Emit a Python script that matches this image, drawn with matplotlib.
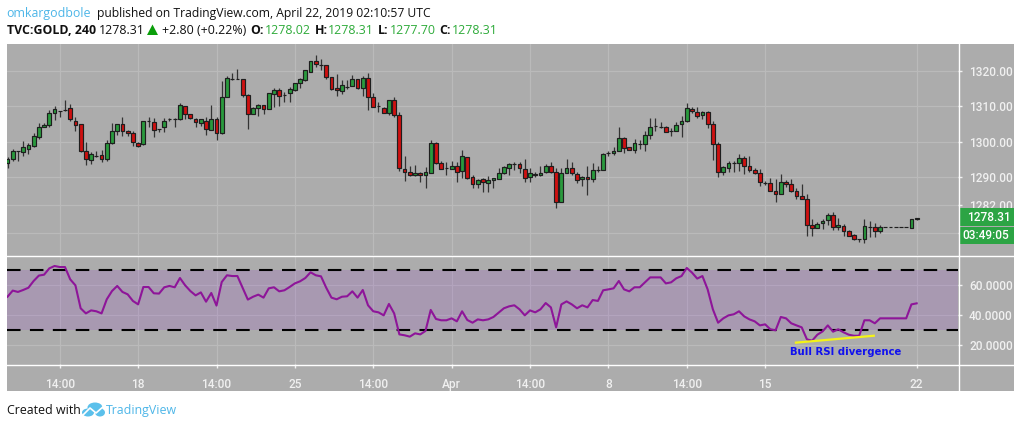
import matplotlib
matplotlib.use("Agg")
import numpy as np
import matplotlib.pyplot as plt
from matplotlib.patches import Rectangle, Polygon, Ellipse

# 4h gold candles
opens = [
    1293.8, 1295.1, 1297.4, 1297.1, 1298.0, 1298.8, 1301.4, 1304.2, 1304.7, 1308.0,
    1308.7, 1308.9, 1309.4, 1305.9, 1304.9, 1297.4, 1294.9, 1296.0, 1296.3, 1295.1,
    1299.5, 1302.9, 1304.9, 1302.9, 1302.5, 1299.7, 1299.2, 1305.7, 1305.6, 1303.5,
    1304.0, 1306.5, 1306.5, 1306.3, 1310.2, 1307.7, 1306.5, 1305.2, 1305.9, 1303.3,
    1306.5, 1302.3, 1312.7, 1317.7, 1317.6, 1317.6, 1313.1, 1307.9, 1309.6, 1310.3,
    1309.2, 1313.6, 1314.5, 1313.3, 1313.7, 1314.7, 1316.5, 1317.5, 1319.8, 1322.7,
    1321.6, 1321.6, 1318.2, 1315.1, 1314.4, 1315.6, 1315.8, 1317.6, 1315.3, 1317.9,
    1312.7, 1310.1, 1309.6, 1308.2, 1311.7, 1307.6, 1292.2, 1291.5, 1290.4, 1291.2,
    1290.4, 1291.2, 1299.5, 1293.8, 1292.4, 1292.3, 1293.2, 1291.8, 1295.7, 1289.9,
    1288.1, 1289.3, 1288.4, 1289.0, 1289.5, 1291.2, 1292.6, 1293.7, 1293.6, 1292.3,
    1289.9, 1290.9, 1290.4, 1291.4, 1293.2, 1291.5, 1283.0, 1291.2, 1292.6, 1290.9,
    1289.3, 1290.1, 1289.3, 1292.0, 1292.0, 1296.8, 1296.7, 1297.4, 1301.1, 1298.4,
    1297.7, 1299.3, 1299.4, 1301.9, 1304.4, 1304.2, 1304.2, 1303.1, 1303.1, 1304.9,
    1305.9, 1309.3, 1308.5, 1307.4, 1308.3, 1304.9, 1299.2, 1291.3, 1292.6, 1294.0,
    1293.8, 1295.3, 1293.2, 1291.9, 1291.2, 1288.4, 1288.4, 1286.0, 1285.2, 1288.6,
    1287.9, 1286.1, 1284.7, 1283.8, 1276.5, 1275.4, 1276.9, 1277.9, 1279.3, 1275.8,
    1276.2, 1274.8, 1273.5, 1272.4, 1272.5, 1275.9, 1275.8, 1274.8, 1275.9, 1275.9,
    1275.9, 1275.9, 1275.9, 1275.5, 1278.02,
]
highs = [
    1295.7, 1297.8, 1297.4, 1300.2, 1299.5, 1302.5, 1305.2, 1305.2, 1308.9, 1310.1,
    1308.7, 1311.8, 1310.6, 1307.0, 1305.0, 1299.8, 1297.0, 1297.4, 1297.6, 1300.4,
    1305.2, 1305.0, 1306.9, 1303.3, 1303.0, 1299.8, 1305.8, 1306.9, 1306.6, 1303.7,
    1306.6, 1306.6, 1306.6, 1311.0, 1310.2, 1307.8, 1306.6, 1306.4, 1306.9, 1310.4,
    1307.1, 1317.3, 1318.6, 1319.3, 1320.6, 1317.7, 1313.5, 1309.7, 1310.6, 1310.4,
    1313.8, 1315.2, 1315.1, 1314.0, 1315.6, 1316.7, 1318.0, 1320.2, 1322.9, 1324.5,
    1323.3, 1321.6, 1318.3, 1319.1, 1317.4, 1317.4, 1318.9, 1317.7, 1318.6, 1319.5,
    1313.9, 1311.3, 1309.7, 1311.7, 1312.6, 1308.5, 1295.9, 1293.1, 1293.3, 1291.3,
    1292.9, 1300.5, 1299.8, 1294.6, 1294.2, 1294.6, 1294.1, 1297.6, 1295.7, 1290.5,
    1289.3, 1289.6, 1290.2, 1289.6, 1292.4, 1293.1, 1293.8, 1294.2, 1294.3, 1295.0,
    1292.4, 1291.4, 1293.1, 1293.6, 1294.1, 1292.4, 1292.4, 1295.0, 1294.1, 1291.5,
    1290.2, 1293.1, 1293.8, 1293.1, 1296.9, 1297.2, 1298.4, 1304.0, 1301.4, 1298.5,
    1300.6, 1300.4, 1303.0, 1306.6, 1306.6, 1305.5, 1304.3, 1303.8, 1305.6, 1307.2,
    1310.8, 1309.9, 1309.7, 1308.7, 1308.7, 1305.8, 1299.8, 1293.1, 1294.5, 1294.5,
    1296.5, 1295.9, 1295.9, 1292.4, 1292.3, 1288.8, 1289.6, 1289.3, 1290.7, 1289.1,
    1289.3, 1286.8, 1288.0, 1285.3, 1278.0, 1277.3, 1278.0, 1279.7, 1280.1, 1278.3,
    1276.6, 1275.0, 1273.7, 1272.5, 1278.0, 1277.5, 1277.0, 1276.4, 1275.9, 1275.9,
    1275.9, 1275.9, 1275.9, 1278.0, 1278.31,
]
lows = [
    1292.4, 1294.6, 1294.6, 1296.0, 1296.5, 1298.5, 1300.7, 1304.0, 1304.2, 1306.1,
    1307.0, 1308.7, 1305.9, 1303.1, 1297.0, 1293.4, 1293.6, 1295.7, 1294.3, 1294.6,
    1299.3, 1301.9, 1301.7, 1301.6, 1298.8, 1298.6, 1299.0, 1304.2, 1301.4, 1302.8,
    1302.8, 1305.8, 1304.2, 1306.1, 1306.3, 1306.4, 1304.0, 1304.4, 1301.9, 1303.3,
    1300.5, 1302.1, 1312.5, 1317.5, 1317.6, 1312.7, 1303.6, 1307.8, 1307.2, 1307.7,
    1309.1, 1309.9, 1310.1, 1311.3, 1311.3, 1314.4, 1315.3, 1317.3, 1319.7, 1321.2,
    1320.3, 1317.6, 1314.6, 1313.0, 1313.5, 1314.8, 1315.8, 1314.8, 1313.0, 1309.0,
    1309.7, 1308.5, 1308.0, 1307.5, 1306.9, 1291.8, 1288.8, 1290.3, 1290.3, 1288.7,
    1287.0, 1291.0, 1293.6, 1292.1, 1290.5, 1292.1, 1288.6, 1289.6, 1289.3, 1286.8,
    1286.8, 1285.7, 1285.8, 1286.9, 1289.3, 1290.8, 1290.5, 1292.0, 1291.0, 1288.6,
    1288.7, 1289.9, 1290.3, 1291.0, 1291.0, 1281.1, 1282.8, 1291.0, 1290.5, 1288.4,
    1287.4, 1284.9, 1288.6, 1291.5, 1292.0, 1296.0, 1296.2, 1297.2, 1296.7, 1297.6,
    1296.7, 1298.0, 1297.3, 1300.7, 1302.9, 1303.9, 1302.7, 1301.6, 1302.9, 1301.4,
    1305.5, 1308.2, 1306.6, 1306.3, 1303.8, 1294.8, 1289.9, 1290.5, 1291.5, 1291.5,
    1291.7, 1290.8, 1291.5, 1290.8, 1287.5, 1287.8, 1286.0, 1283.0, 1285.1, 1287.2,
    1285.8, 1283.7, 1283.7, 1273.4, 1273.2, 1275.4, 1275.2, 1276.4, 1275.0, 1275.0,
    1273.2, 1273.2, 1272.1, 1271.6, 1271.2, 1272.9, 1272.9, 1274.0, 1275.9, 1275.9,
    1275.9, 1275.9, 1275.9, 1275.5, 1277.7,
]
closes = [
    1295.2, 1297.4, 1297.4, 1298.4, 1298.9, 1301.7, 1304.2, 1304.8, 1308.0, 1309.1,
    1308.7, 1308.9, 1306.5, 1304.8, 1297.4, 1295.1, 1296.4, 1296.0, 1295.2, 1299.5,
    1302.9, 1305.0, 1302.9, 1302.3, 1299.8, 1298.8, 1305.7, 1305.7, 1303.4, 1303.5,
    1305.9, 1306.5, 1306.5, 1310.3, 1307.9, 1306.6, 1305.5, 1306.3, 1303.5, 1306.3,
    1302.3, 1312.5, 1317.9, 1317.7, 1317.6, 1313.3, 1307.9, 1309.6, 1310.5, 1309.3,
    1313.7, 1314.5, 1313.0, 1313.3, 1314.8, 1316.5, 1317.6, 1320.2, 1322.7, 1321.9,
    1321.6, 1318.2, 1315.0, 1314.5, 1316.0, 1315.6, 1317.6, 1315.3, 1317.9, 1312.7,
    1309.9, 1310.1, 1308.2, 1311.7, 1307.6, 1292.4, 1291.5, 1290.4, 1291.2, 1290.4,
    1291.5, 1299.7, 1293.8, 1292.3, 1292.4, 1293.2, 1291.5, 1295.8, 1289.6, 1288.1,
    1289.2, 1288.5, 1289.0, 1289.6, 1291.2, 1292.7, 1293.6, 1293.7, 1292.4, 1289.8,
    1291.2, 1290.4, 1291.2, 1293.2, 1291.4, 1283.0, 1291.2, 1292.6, 1291.2, 1289.0,
    1290.1, 1289.3, 1292.0, 1292.0, 1296.6, 1296.8, 1297.4, 1301.1, 1298.3, 1297.7,
    1299.5, 1299.3, 1302.0, 1304.2, 1304.4, 1304.2, 1302.8, 1303.1, 1304.8, 1305.9,
    1309.4, 1308.6, 1307.2, 1308.3, 1304.9, 1299.2, 1291.3, 1292.7, 1293.8, 1294.0,
    1295.3, 1293.2, 1291.9, 1291.1, 1288.5, 1288.4, 1286.1, 1285.2, 1288.6, 1288.0,
    1286.0, 1284.7, 1283.8, 1276.5, 1275.4, 1276.8, 1277.6, 1279.1, 1275.9, 1276.3,
    1274.8, 1273.4, 1272.5, 1272.4, 1276.0, 1275.9, 1274.8, 1275.9, 1275.9, 1275.9,
    1275.9, 1275.9, 1275.9, 1278.0, 1278.31,
]
rsi_values = [
    52.4, 56.5, 55.6, 56.9, 58.4, 62.9, 66.5, 67.1, 71.3, 72.9,
    72.2, 72.2, 64.0, 60.0, 44.7, 41.3, 43.3, 42.7, 41.3, 50.7,
    56.2, 59.6, 55.6, 54.0, 49.6, 47.3, 58.9, 58.9, 54.7, 54.5,
    58.7, 59.6, 58.7, 64.9, 60.0, 56.2, 53.3, 55.3, 49.1, 54.9,
    46.5, 62.2, 66.7, 66.2, 66.2, 58.4, 50.5, 52.4, 53.8, 51.8,
    58.0, 58.7, 56.0, 56.7, 58.9, 61.3, 62.7, 64.9, 68.7, 66.7,
    66.0, 58.4, 51.8, 50.7, 52.4, 52.7, 56.0, 51.8, 56.9, 46.7,
    42.7, 42.0, 40.0, 47.6, 41.3, 27.3, 26.7, 25.8, 28.0, 27.3,
    29.6, 43.6, 37.6, 36.7, 36.7, 38.0, 36.0, 42.7, 36.9, 35.1,
    37.3, 36.7, 37.3, 38.9, 41.8, 44.7, 46.0, 46.7, 44.0, 40.0,
    43.3, 42.0, 44.0, 48.2, 45.3, 32.0, 47.3, 49.3, 47.3, 44.7,
    46.7, 45.3, 50.2, 49.6, 56.7, 57.3, 58.0, 62.9, 57.3, 56.0,
    58.7, 58.7, 62.0, 65.3, 65.3, 65.3, 61.3, 62.0, 64.7, 66.2,
    71.6, 68.5, 64.5, 66.2, 57.3, 44.0, 35.1, 38.0, 40.0, 40.7,
    42.7, 39.3, 37.3, 36.0, 33.3, 34.0, 30.7, 30.0, 38.9, 38.0,
    34.7, 33.3, 32.0, 24.0, 23.1, 27.1, 29.3, 33.3, 29.1, 30.7,
    28.7, 27.1, 26.4, 26.4, 36.7, 36.7, 34.7, 38.0, 38.0, 38.0,
    38.0, 38.0, 38.0, 47.3, 48.0,
]

time_tick_bars = [10, 25, 40, 55, 70, 85, 100, 115, 130, 145, 174]
time_tick_labels = ["14:00", "18", "14:00", "25", "14:00", "Apr", "14:00", "8", "14:00", "15", "22"]
price_ticks = [1274, 1282, 1290, 1300, 1310, 1320]
price_tick_labels = ["", "1282.00", "1290.00", "1300.00", "1310.00", "1320.00"]
rsi_ticks = [20, 40, 60]
divergence_bars = [150.9, 165.8]
divergence_rsi = [21.8, 26.4]

W, H = 1021, 428
PANEL = "#acacac"
GRID = "#bababa"
TXT = "#f0f0f0"
BLUE = "#4db6e8"
UP = "#2a9a3d"
DOWN = "#cf1010"
EDGE = "#1e1e1e"
FONT = "Open Sans"
HEAD = 8.9
AXIS_SIZE = 8.6

fig = plt.figure(figsize=(W / 100, H / 100), dpi=100, facecolor="white")


def pane(left, top, right, bottom, zorder):
    return fig.add_axes([left / W, 1 - bottom / H, (right - left) / W, (bottom - top) / H], zorder=zorder)


# pixel canvas for the panel behind the charts
back = pane(0, 0, W, H, 0)
back.set_xlim(0, W)
back.set_ylim(H, 0)
back.axis("off")
back.add_patch(Rectangle((7, 44), 1007, 347, fc=PANEL, ec="none"))

bar_step = 5.225
first_x = 7.5
xlim = ((7 - first_x) / bar_step, (958 - first_x) / bar_step)

ax = pane(7, 44, 958, 255, 1)
rsi_ax = pane(7, 256, 958, 364, 1)
bars = np.arange(len(opens))

for a in (ax, rsi_ax):
    a.patch.set_alpha(0)
    a.set_xlim(xlim)
    a.set_xticks(time_tick_bars)
    a.yaxis.tick_right()
    a.grid(True, color=GRID, lw=0.9)
    a.set_axisbelow(True)
    for side in ("top", "left", "right", "bottom"):
        a.spines[side].set_visible(False)
    a.tick_params(axis="y", colors=TXT, length=3, width=1, pad=5, labelsize=AXIS_SIZE)

ax.set_ylim(1267.88, 1327.65)
ax.set_yticks(price_ticks)
ax.set_yticklabels(price_tick_labels, fontfamily="Roboto", fontweight="medium")
ax.tick_params(axis="x", length=0, labelbottom=False)

o = np.array(opens)
c = np.array(closes)
ax.vlines(bars, lows, highs, color="#333333", lw=0.9, zorder=2)
ax.bar(bars, np.abs(c - o), bottom=np.minimum(o, c), width=0.72,
       color=[UP if k >= op else DOWN for op, k in zip(o, c)],
       edgecolor=EDGE, linewidth=0.85, zorder=3)

rsi_ax.set_ylim(7.56, 79.56)
rsi_ax.set_yticks(rsi_ticks)
rsi_ax.set_yticklabels([f"{v:.4f}" for v in rsi_ticks], fontfamily="Roboto", fontweight="medium")
rsi_ax.set_xticklabels(time_tick_labels, fontfamily="Roboto", fontweight="medium", fontsize=AXIS_SIZE, color=TXT)
rsi_ax.tick_params(axis="x", colors=TXT, length=3, width=1, pad=7)
rsi_ax.axhspan(30, 70, fc="#984dca", alpha=0.2, zorder=1)
for level in (70, 30):
    rsi_ax.axhline(level, color="black", lw=1.5, dashes=(6.5, 4.5), zorder=2)
rsi_ax.plot(bars, rsi_values, color="#8e1599", lw=1.5, zorder=3, solid_joinstyle="round")
rsi_ax.plot(divergence_bars, divergence_rsi, color="#f4f416", lw=1.6, zorder=4)
rsi_ax.text(160.5, 15.8, "Bull RSI divergence", color="#1111ee", fontsize=7.3, fontweight="bold",
            family="DejaVu Sans", ha="center", va="center", zorder=5)

# overlay in pixel coordinates: axis borders, tags, header and footer
top = pane(0, 0, W, H, 3)
top.set_xlim(0, W)
top.set_ylim(H, 0)
top.axis("off")
top.patch.set_alpha(0)
top.plot([7, 1014], [255.5, 255.5], color="white", lw=1)
top.plot([7, 1014], [364.5, 364.5], color="white", lw=1)
top.plot([958.5, 958.5], [44, 391], color="white", lw=1)

top.add_patch(Rectangle((959, 208), 55, 18, fc="#2ca444", ec="none"))
top.add_patch(Rectangle((959, 227), 55, 17, fc="#2ca444", ec="none"))
top.text(967, 217.5, "1278.31", color="white", fontsize=AXIS_SIZE, family="Roboto", fontweight="medium", va="center")
top.text(962, 235.5, "03:49:05", color="white", fontsize=AXIS_SIZE, family="Roboto", fontweight="medium", va="center")

green_txt = "#2eab3a"
top.text(6.5, 13, "omkargodbole", color=BLUE, fontsize=HEAD, family=FONT, va="center")
top.text(96.5, 13, "published on TradingView.com, April 22, 2019 02:10:57 UTC", color="#111111",
         fontsize=HEAD * 0.985, family=FONT, va="center")
top.text(6.5, 30, "TVC:GOLD, 240", color="#111111", fontsize=HEAD, family=FONT, fontweight="bold", va="center")
top.text(99, 30, "1278.31", color="#111111", fontsize=HEAD, family=FONT, va="center")
top.add_patch(Polygon([[147, 35], [158, 35], [152.5, 24.5]], fc="#0a9e0a", ec="none"))
top.text(161.5, 30, "+2.80 (+0.22%)", color="#111111", fontsize=HEAD, family=FONT, va="center")
for x_lab, lab, x_val, val in [(250.7, "O:", 265, "1278.02"), (315, "H:", 328, "1278.31"),
                               (378, "L:", 390, "1277.70"), (439, "C:", 452, "1278.31")]:
    top.text(x_lab, 30, lab, color="#111111", fontsize=HEAD, family=FONT, fontweight="bold", va="center")
    top.text(x_val, 30, val, color=green_txt, fontsize=HEAD, family=FONT, va="center")

top.text(6.5, 410.5, "Created with", color="#111111", fontsize=HEAD, family=FONT, va="center")
logo = "#5bc0eb"
top.add_patch(Ellipse((95, 407.5), 15, 10, fc=logo, ec="none"))
top.add_patch(Ellipse((88, 412.5), 12, 8, fc=logo, ec="none"))
top.add_patch(Ellipse((100, 412.5), 10, 8, fc=logo, ec="none"))
top.plot([83, 90, 96, 104], [415, 408, 413, 406], color="white", lw=1.2)
top.text(106, 410.5, "TradingView", color=BLUE, fontsize=HEAD, family=FONT, va="center")

fig.savefig("out.png", dpi=100)
